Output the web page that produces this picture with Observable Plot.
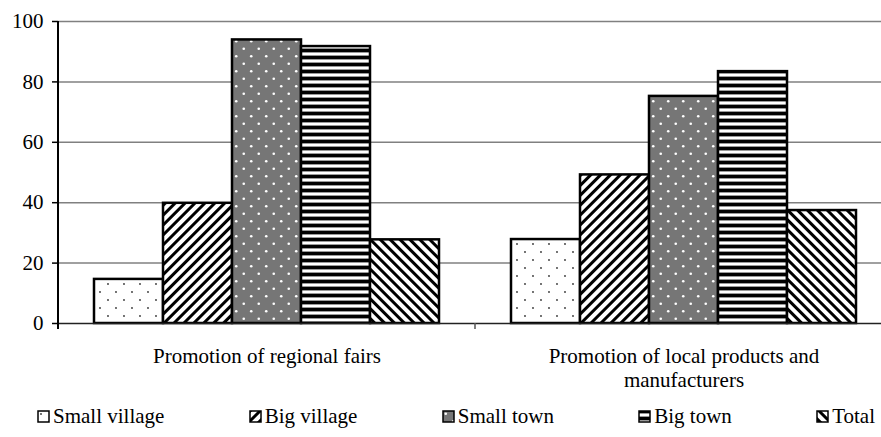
<!DOCTYPE html>
<html>
<head>
<meta charset="utf-8">
<script src="https://cdn.jsdelivr.net/npm/d3@7"></script>
<script src="https://cdn.jsdelivr.net/npm/@observablehq/plot@0.6"></script>
<style>
  @font-face { font-family: "ChartSerif";
    src: local("Liberation Serif"), local("LiberationSerif"), local("LiberationSerif-Regular"),
         local("Times New Roman"), local("DejaVu Serif"), local("DejaVuSerif"); }
  html, body { margin: 0; padding: 0; background: #fff; }
  #chart { width: 881px; height: 437px; overflow: hidden; position: relative;
           font-family: "Liberation Serif", ChartSerif, "Times New Roman", "DejaVu Serif", serif; background: #fff; }
  #chart > svg { display: block; }
  .legend { display: flex; align-items: center; justify-content: space-between;
            height: 42px; font-size: 21px; color: #000; padding: 0 6px 0 37px; box-sizing: border-box; }
  .legend .item { display: flex; align-items: center; white-space: nowrap; }
  .legend .item svg { margin-right: 3px; }
</style>
</head>
<body>
<div id="chart"></div>
<script>
// ---- data ----
const categories = ["Promotion of regional fairs", "Promotion of local products and manufacturers"];
const categoryLabels = ["Promotion of regional fairs", "Promotion of local products and\nmanufacturers"];
const series = ["Small village", "Big village", "Small town", "Big town", "Total"];
const regionalFairs = [14.6, 39.8, 93.9, 91.7, 27.7];
const localProducts = [27.8, 49.2, 75.2, 83.4, 37.4];
const yTicks = [0, 20, 40, 60, 80, 100];

// ---- styles (pattern fills) ----
const patternIds = ["pat-small-village", "pat-big-village", "pat-small-town", "pat-big-town", "pat-total"];

const valuesByCategory = [regionalFairs, localProducts];
const rows = [];
categories.forEach((c, ci) => series.forEach((s, si) => rows.push({category: c, series: s, value: valuesByCategory[ci][si]})));

const font = "\"Liberation Serif\", ChartSerif, \"Times New Roman\", \"DejaVu Serif\", serif";

const chart = Plot.plot({
  width: 881,
  height: 395,
  marginTop: 21,
  marginBottom: 72,
  marginLeft: 58,
  marginRight: -11,
  style: {fontFamily: font, fontSize: "21px", background: "white", color: "black"},
  fx: {domain: categories, padding: 0, label: null},
  x: {domain: series, paddingInner: 0, paddingOuter: 0.5, axis: null},
  y: {domain: [0, 100], label: null},
  color: {domain: series, range: patternIds.map(id => `url(#${id})`)},
  marks: [
    Plot.gridY(yTicks.slice(1), {stroke: "#808080", strokeOpacity: 1, strokeWidth: 1.5}),
    Plot.barY(rows, {fx: "category", x: "series", y: "value", fill: "series", stroke: "black", strokeWidth: 2.5}),
    Plot.ruleY([0], {stroke: "#222", strokeWidth: 1.5}),
    Plot.axisY({ticks: yTicks, tickSize: 6, tickPadding: 9, fontSize: 21, label: null, strokeWidth: 1.5}),
    Plot.axisFx({anchor: "bottom", tickSize: 0, tickPadding: 22, fontSize: 21, label: null, lineHeight: 1.15,
                 tickFormat: d => categoryLabels[categories.indexOf(d)]})
  ]
});

// pattern definitions
const svg = d3.select(chart);
svg.style("font-family", font);
svg.selectAll("text").style("font-family", font);
const defs = svg.insert("defs", ":first-child");
// small village: sparse staggered dots
{
  const p = defs.append("pattern").attr("id", patternIds[0]).attr("patternUnits", "userSpaceOnUse")
    .attr("width", 16).attr("height", 16);
  p.append("rect").attr("width", 16).attr("height", 16).attr("fill", "white");
  p.append("circle").attr("cx", 4).attr("cy", 4).attr("r", 0.9).attr("fill", "#333");
  p.append("circle").attr("cx", 12).attr("cy", 12).attr("r", 0.9).attr("fill", "#333");
}
// big village: "/" stripes
{
  const p = defs.append("pattern").attr("id", patternIds[1]).attr("patternUnits", "userSpaceOnUse")
    .attr("width", 7).attr("height", 7).attr("patternTransform", "rotate(45)");
  p.append("rect").attr("width", 7).attr("height", 7).attr("fill", "white");
  p.append("rect").attr("width", 3).attr("height", 7).attr("fill", "black");
}
// small town: gray with white staggered spots
{
  const p = defs.append("pattern").attr("id", patternIds[2]).attr("patternUnits", "userSpaceOnUse")
    .attr("width", 15).attr("height", 15);
  p.append("rect").attr("width", 15).attr("height", 15).attr("fill", "#767676");
  p.append("circle").attr("cx", 3.75).attr("cy", 3.75).attr("r", 1.3).attr("fill", "white");
  p.append("circle").attr("cx", 11.25).attr("cy", 11.25).attr("r", 1.3).attr("fill", "white");
}
// big town: horizontal stripes
{
  const p = defs.append("pattern").attr("id", patternIds[3]).attr("patternUnits", "userSpaceOnUse")
    .attr("width", 7).attr("height", 7);
  p.append("rect").attr("width", 7).attr("height", 7).attr("fill", "white");
  p.append("rect").attr("width", 7).attr("height", 3).attr("fill", "black");
  p.append("rect").attr("y", 3).attr("width", 7).attr("height", 1).attr("fill", "#999");
  p.append("rect").attr("y", 6).attr("width", 7).attr("height", 1).attr("fill", "#999");
}
// total: "\" stripes
{
  const p = defs.append("pattern").attr("id", patternIds[4]).attr("patternUnits", "userSpaceOnUse")
    .attr("width", 7).attr("height", 7).attr("patternTransform", "rotate(-45)");
  p.append("rect").attr("width", 7).attr("height", 7).attr("fill", "white");
  p.append("rect").attr("width", 3).attr("height", 7).attr("fill", "black");
}

// y axis line and category boundary ticks, positioned from the plot's scales
const fx = chart.scale("fx");
const y = chart.scale("y");
const y0 = y.apply(0), yTop = y.apply(yTicks[yTicks.length - 1]);
const edges = categories.map(c => fx.apply(c));
edges.push(edges[edges.length - 1] + fx.bandwidth);
svg.append("line").attr("x1", edges[0]).attr("x2", edges[0]).attr("y1", yTop).attr("y2", y0 + 6)
  .attr("stroke", "black").attr("stroke-width", 2);
edges.slice(1).forEach(e => {
  svg.append("line").attr("x1", e).attr("x2", e).attr("y1", y0).attr("y2", y0 + 6)
    .attr("stroke", "#555").attr("stroke-width", 1.5);
});

const container = document.getElementById("chart");
container.appendChild(chart);

// legend
const legend = d3.select(container).append("div").attr("class", "legend");
series.forEach((s, i) => {
  const item = legend.append("div").attr("class", "item");
  const ic = item.append("svg").attr("width", 13).attr("height", 13);
  ic.append("rect").attr("x", 1).attr("y", 1).attr("width", 11).attr("height", 11)
    .attr("fill", `url(#${patternIds[i]})`).attr("stroke", "black").attr("stroke-width", 1.5);
  item.append("span").text(s);
});
</script>
</body>
</html>
